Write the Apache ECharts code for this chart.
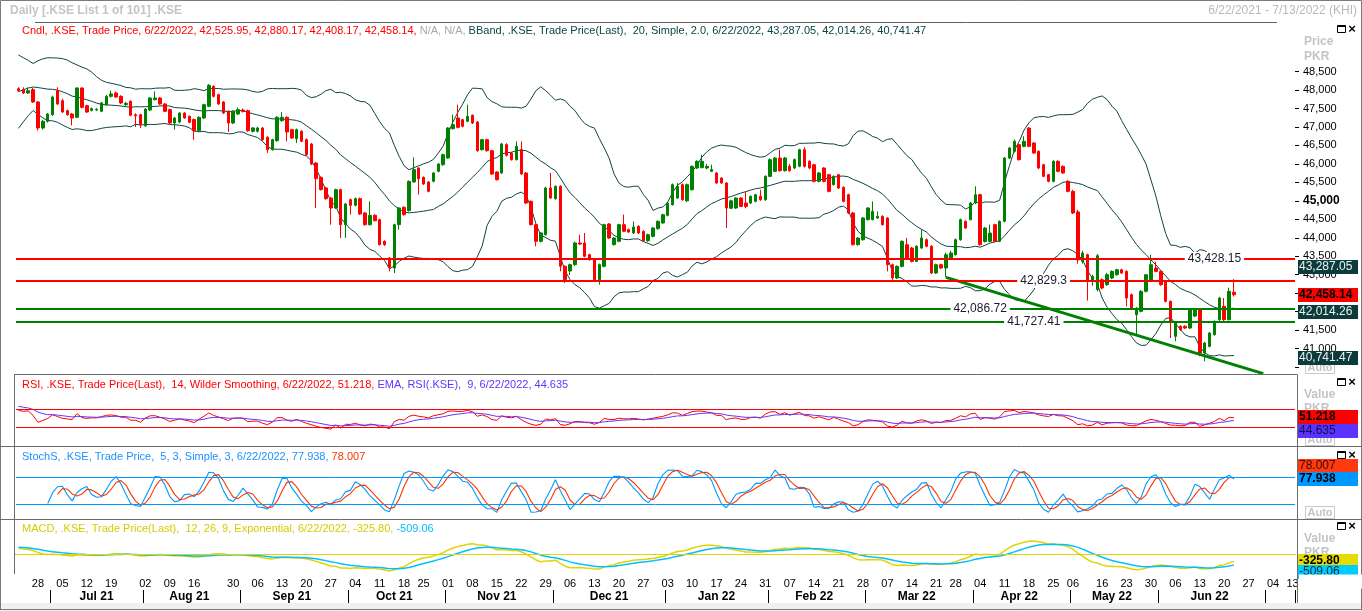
<!DOCTYPE html>
<html><head><meta charset="utf-8">
<script src="https://cdn.jsdelivr.net/npm/echarts@6/dist/echarts.min.js"></script>
<style>html,body{margin:0;padding:0;background:#fff;overflow:hidden}#c{width:1362px;height:611px}</style>
</head><body><div id="c"></div>
<script>
// ---------------- DATA ----------------
const firstDay = '2021-06-22', lastDay = '2022-07-13';
const holidays = ['2021-07-20','2021-07-21','2021-07-22','2021-08-18','2021-08-19','2021-10-19','2022-03-23','2022-04-29','2022-05-02','2022-05-03','2022-05-04','2022-05-05','2022-07-08','2022-07-11','2022-07-12'];
// closes of the 19 sessions before the window (only feed the indicators)
const warmupCloses = [46900,47050,47100,47300,47550,47800,47900,48100,48250,48400,48550,48450,48300,48200,48350,48450,48300,48150,48050];
// daily candles [open, high, low, close]
const ohlc = [
[48038,48074,47948,47984],[48011,48074,47893,47920],[47920,48074,47893,47984],[48011,48056,47650,47677],[47677,47700,46901,46973],
[46973,47190,46930,47153],[47153,47380,47120,47352],[47334,47850,47300,47812],[47984,48074,47600,47623],[47713,47760,47380,47406],
[47442,47470,47300,47334],[47352,47380,47045,47244],[47262,48074,47240,48056],[48056,48074,47500,47533],[47578,47600,47380,47406],
[47451,47530,47420,47497],[47460,47510,47430,47480],[47424,47680,47400,47650],[47605,47870,47580,47830],[47830,47984,47800,47894],
[47921,47960,47790,47812],[47830,47860,47620,47650],[47605,47680,47570,47640],[47695,47720,47290,47316],[47330,47370,47000,47300],
[47334,47360,46973,47063],[47036,47510,47000,47487],[47460,47810,47430,47785],[47740,47966,47720,47785],[47785,47810,47600,47623],
[47623,47650,47400,47424],[47470,47500,47080,47108],[47108,47270,46928,47244],[47135,47400,47100,47379],[47379,47400,47220,47244],
[47290,47310,47100,47126],[47200,47230,46657,46900],[46900,47290,46880,47262],[47244,47630,47220,47605],[47560,48164,47540,48128],
[48101,48130,47800,47830],[47876,47900,47600,47623],[47677,47700,47350,47379],[47424,47450,46865,47108],[47108,47450,47080,47424],
[47352,47530,47330,47470],[47460,47500,47390,47420],[47442,47470,46870,46900],[46883,47000,46850,46973],[46883,47010,46850,46973],
[46973,47000,46630,46657],[46720,46750,46300,46386],[46386,46680,46360,46657],[46630,47290,46600,47262],[47172,47406,47140,47262],
[47262,47290,46612,46865],[46928,46950,46680,46702],[46684,46960,46567,46928],[46883,46910,46590,46612],[46657,46690,46220,46251],
[46540,46570,45970,45998],[46025,46050,44807,45600],[45637,45660,45280,45303],[45348,45380,45030,45059],[45077,45100,44355,44807],
[44807,45330,44780,45303],[45303,45330,43994,44355],[44355,44940,43994,44915],[45032,45060,44626,44879],[44879,45090,44850,45059],
[45059,45090,44620,44644],[44671,44700,44330,44355],[44355,44987,44330,44608],[44608,44640,44440,44463],[44490,44520,43790,43814],
[43904,43930,43780,43814],[43452,43480,43091,43200],[43182,44380,43046,44355],[44355,44830,44220,44807],[44825,44850,44600,44626],
[44735,45550,44710,45529],[45511,46179,45490,45845],[45890,45910,45168,45600],[45637,45660,45430,45456],[45511,45530,45230,45258],
[45529,45780,45500,45754],[45800,46020,45770,45998],[45980,46280,45950,46251],[46161,47000,46140,46973],[46955,47334,46930,47063],
[47244,47605,46960,46991],[47199,47220,46990,47018],[47153,47605,47130,47289],[47316,47340,47080,47108],[47135,47160,46330,46359],
[46386,46680,46360,46657],[46657,46680,46330,46359],[46359,46380,45700,45727],[45782,45800,45550,45574],[45754,46570,45730,46540],
[46522,46560,46200,46233],[46296,46320,46090,46116],[46116,46612,46090,46476],[46386,46612,45700,45727],[45754,45780,44910,44942],
[44987,45010,44330,44355],[44355,44380,43769,43904],[43904,44150,43870,44130],[44084,45380,44060,45348],[45348,45754,45050,45077],
[45059,45420,45030,45393],[45393,45420,43091,43227],[43227,43250,42776,42866],[43100,43300,42990,43272],[43272,43900,43240,43859],
[43859,44084,43800,43830],[43859,44130,43470,43498],[43543,43570,43380,43407],[43407,43430,42840,42866],[42866,43300,42730,43272],
[43227,44380,43200,44355],[44373,44400,43970,43994],[43814,44020,43790,43994],[43904,44380,43880,44355],[44355,44626,44150,44175],
[44220,44250,44130,44155],[44130,44440,44100,44290],[44310,44340,44100,44130],[44174,44200,43900,43920],[43920,44110,43890,44083],
[44038,44290,44010,44264],[44246,44470,44220,44445],[44400,44650,44380,44625],[44607,44970,44580,44941],[44896,45470,44870,45438],
[45077,45480,45050,45393],[45438,45470,45000,45032],[45000,45470,44970,45438],[45302,45960,45280,45934],[45889,46100,45860,46070],
[45900,46250,45880,46070],[45889,46000,45850,45934],[45800,45980,45780,45850],[45754,45780,45460,45483],[45618,45640,45460,45483],
[45483,45510,44264,44806],[44800,45030,44780,45000],[44806,45100,44780,45077],[45077,45100,44830,44850],[44940,45250,44800,44850],
[44941,45150,44910,45121],[44986,45190,44960,45167],[45121,45300,45000,45032],[45032,45690,45000,45663],[45663,46150,45640,46115],
[45799,46190,45780,46160],[46160,46390,45790,45817],[45817,46190,45790,46160],[45934,46000,45790,45817],[45889,46150,45860,46115],
[45934,46410,45910,46385],[46385,46450,45900,45934],[46070,46100,45860,45889],[45979,46000,45500,45528],[45528,45780,45500,45754],
[45889,45910,45500,45528],[45709,45730,45230,45257],[45438,45690,45410,45663],[45709,45730,45320,45347],[45366,45390,44960,44986],
[45167,45190,44640,44670],[44670,44700,43790,43813],[43813,44020,43790,43993],[43948,44560,43920,44535],[44490,44830,44470,44806],
[44490,44986,44470,44715],[44535,44715,44510,44580],[44580,44610,44330,44354],[44535,44560,43090,43271],[43271,43300,42820,42910],
[42910,43250,42880,43226],[43226,43930,43200,43903],[43813,43993,43430,43452],[43722,43750,43330,43361],[43361,43800,43340,43768],
[43722,44219,43700,43993],[43948,43980,43740,43768],[43768,43800,43020,43045],[43045,43300,43020,43271],[43271,43300,43150,43181],
[43181,43600,42930,43542],[43452,43650,43400,43587],[43542,43980,43520,43948],[43948,44520,43920,44490],[44445,44470,44240,44264],
[44490,44970,44470,44941],[44941,45393,44910,45167],[45167,45190,43790,43813],[43900,44290,43870,44264],[43903,44354,43880,44128],
[44354,44380,43880,43903],[43903,44470,43880,44445],[44445,46190,44420,46160],[46160,46460,46130,46430],[46340,46660,46310,46611],
[46521,46550,46090,46115],[46476,46750,46450,46611],[46972,47000,46450,46476],[46566,46590,46270,46295],[46340,46370,45860,45889],
[45979,46000,45640,45663],[45709,45730,45500,45528],[45528,46100,45500,46070],[46070,46100,45770,45799],[45934,45960,45730,45754],
[45528,45560,45230,45257],[45257,45300,44640,44670],[44700,44750,43300,43400],[43361,43650,43300,43587],[43542,43570,42300,42820],
[42820,43000,42700,42950],[42600,43560,42550,43515],[42865,42900,42600,42640],[42730,43050,42700,43000],[42910,43120,42880,43090],
[43000,43160,42970,43135],[43135,43160,43020,43045],[43090,43120,42143,42370],[42460,42490,42070,42098],[41918,42120,41376,42098],
[42007,42580,41980,42549],[42549,43020,42520,42999],[42820,43542,42800,43271],[43181,43350,43060,43090],[43090,43120,42700,42730],
[42820,42850,42250,42278],[42278,42300,41285,41737],[41331,41740,41195,41692],[41602,41630,41480,41512],[41602,41630,41530,41557],
[41557,42080,41530,42052],[41880,42100,41850,42060],[42052,42080,40790,40880],[40880,41180,40654,41150],[41060,41450,41030,41421],
[41376,41760,41350,41737],[41782,42400,41750,42368],[42143,42368,41750,41782],[41782,42650,41760,42549],[42525.95,42880.17,42408.17,42458.14]
];
const levelValues = [43428.15, 42829.3, 42086.72, 41727.41];
const levelLabelDates = ['2022-06-16','2022-04-21','2022-04-04','2022-04-19'];
const trendPoints = [['2022-03-24', 42928], ['2022-06-30', 40322]];
const bbLatest = [43287.05, 42014.26, 40741.47];
const rsiLatest = [51.218, 44.635];
const stochLatest = [77.938, 78.007];
const macdLatest = [-325.80, -509.06];
const priceTickValues = [40500,41000,41500,42000,42500,43000,43500,44000,44500,45000,45500,46000,46500,47000,47500,48000,48500];
const priceLabelValues = [41000,41500,42000,42500,43000,43500,44000,44500,45000,45500,46000,46500,47000,47500,48000,48500];
const dayLabelDates = ['2021-06-28','2021-07-05','2021-07-12','2021-07-19','2021-08-02','2021-08-09','2021-08-16','2021-08-30','2021-09-06','2021-09-13','2021-09-20','2021-09-27','2021-10-04','2021-10-11','2021-10-18','2021-10-25','2021-11-01','2021-11-08','2021-11-15','2021-11-22','2021-11-29','2021-12-06','2021-12-13','2021-12-20','2021-12-27','2022-01-03','2022-01-10','2022-01-17','2022-01-24','2022-01-31','2022-02-07','2022-02-14','2022-02-21','2022-02-28','2022-03-07','2022-03-14','2022-03-21','2022-03-28','2022-04-04','2022-04-11','2022-04-18','2022-04-25','2022-05-06','2022-05-16','2022-05-23','2022-05-30','2022-06-06','2022-06-13','2022-06-20','2022-06-27','2022-07-04','2022-07-13'];
const extraTickDates = ['2021-07-26','2021-08-23','2022-05-09'];
const monthLabels = ['Jul 21','Aug 21','Sep 21','Oct 21','Nov 21','Dec 21','Jan 22','Feb 22','Mar 22','Apr 22','May 22','Jun 22'];
const monthKeys = ['2021-07','2021-08','2021-09','2021-10','2021-11','2021-12','2022-01','2022-02','2022-03','2022-04','2022-05','2022-06','2022-07'];

// ---------------- CALENDAR ----------------
const dates = (() => {
  const out = [], hs = new Set(holidays);
  let d = new Date(firstDay + 'T00:00:00Z'); const end = new Date(lastDay + 'T00:00:00Z');
  while (d <= end) { const w = d.getUTCDay(), s = d.toISOString().slice(0, 10);
    if (w !== 0 && w !== 6 && !hs.has(s)) out.push(s); d = new Date(d.getTime() + 86400000); }
  return out;
})();
const idxOf = s => dates.indexOf(s);
const dayLabelSet = new Set(dayLabelDates.map(idxOf));
const monthStartSet = new Set(monthKeys.map(k => dates.findIndex(s => s.startsWith(k))).filter(i => i >= 0));
const tickSet = new Set([...dayLabelSet, ...extraTickDates.map(idxOf), ...monthStartSet]);
const monthMid = {};
monthLabels.forEach((lab, m) => { const ids = dates.map((s, i) => s.startsWith(monthKeys[m]) ? i : -1).filter(i => i >= 0);
  monthMid[ids[Math.floor((ids.length - 1) / 2)]] = lab; });

// ---------------- INDICATORS ----------------
const N = ohlc.length;
const closes = ohlc.map(r => r[3]);
const allC = warmupCloses.concat(closes); const W = warmupCloses.length;
const bbU = [], bbM = [], bbL = [];
for (let i = 0; i < N; i++) { const j = i + W; const win = allC.slice(j - 19, j + 1);
  const m = win.reduce((a, b) => a + b, 0) / 20; const sd = Math.sqrt(win.reduce((a, b) => a + (b - m) * (b - m), 0) / 20);
  bbU.push(+(m + 2 * sd).toFixed(2)); bbM.push(+m.toFixed(2)); bbL.push(+(m - 2 * sd).toFixed(2)); }
const rsiAll = []; { let g = 0, l = 0;
  for (let k = 1; k <= 14; k++) { const ch = allC[k] - allC[k - 1]; if (ch > 0) g += ch; else l -= ch; }
  g /= 14; l /= 14; rsiAll[14] = 100 - 100 / (1 + g / l);
  for (let k = 15; k < allC.length; k++) { const ch = allC[k] - allC[k - 1];
    g = (g * 13 + Math.max(ch, 0)) / 14; l = (l * 13 + Math.max(-ch, 0)) / 14; rsiAll[k] = 100 - 100 / (1 + g / l); } }
const rsiEmaAll = []; rsiEmaAll[14] = rsiAll[14];
for (let k = 15; k < allC.length; k++) rsiEmaAll[k] = rsiEmaAll[k - 1] + 0.2 * (rsiAll[k] - rsiEmaAll[k - 1]);
const rsi = rsiAll.slice(W).map(v => +v.toFixed(3)), rsiEma = rsiEmaAll.slice(W).map(v => +v.toFixed(3));
const fastK = [], slowK = [], stD = [];
for (let i = 0; i < N; i++) {
  if (i >= 4) { let hh = -Infinity, ll = Infinity; for (let k = i - 4; k <= i; k++) { hh = Math.max(hh, ohlc[k][1]); ll = Math.min(ll, ohlc[k][2]); }
    fastK[i] = 100 * (ohlc[i][3] - ll) / (hh - ll); } else fastK[i] = null;
  slowK[i] = i >= 6 ? (fastK[i] + fastK[i - 1] + fastK[i - 2]) / 3 : null;
  stD[i] = i >= 8 ? (slowK[i] + slowK[i - 1] + slowK[i - 2]) / 3 : null; }
const e12 = [allC[0]], e26 = [allC[0]];
for (let k = 1; k < allC.length; k++) { e12[k] = e12[k - 1] + 2 / 13 * (allC[k] - e12[k - 1]); e26[k] = e26[k - 1] + 2 / 27 * (allC[k] - e26[k - 1]); }
const macdAll = e12.map((v, k) => v - e26[k]); const sigAll = [macdAll[0]];
for (let k = 1; k < allC.length; k++) sigAll[k] = sigAll[k - 1] + 0.2 * (macdAll[k] - sigAll[k - 1]);
const macd = macdAll.slice(W).map(v => +v.toFixed(2)), signal = sigAll.slice(W).map(v => +v.toFixed(2));

// ---------------- CHART ----------------
const F = 'Liberation Sans';
const fmt = (v, d) => v.toLocaleString('en-US', { minimumFractionDigits: d, maximumFractionDigits: d });
const last = ohlc[N - 1];
const grids = [
  { left: 16, right: 67, top: 22, height: 352 },
  { left: 16, right: 67, top: 395.5, height: 45 },
  { left: 16, right: 67, top: 468.8, height: 44.4 },
  { left: 16, right: 67, top: 520, height: 54 }];
const hidX = g => ({ type: 'category', gridIndex: g, data: dates, boundaryGap: true, show: false });
const ml = (items) => ({ symbol: ['none', 'none'], silent: true, animation: false, label: { show: false }, data: items });
const ttl = (text, pos, top, rich, ts) => Object.assign({ text, top, padding: 0,
  textStyle: Object.assign({ fontFamily: F, fontSize: 11, fontWeight: 'normal', rich }, ts || {}) }, pos);
const gray = { color: '#c4c4c4', fontSize: 12, fontWeight: 'bold' };

const option = {
  animation: false,
  backgroundColor: '#fff',
  grid: grids,
  title: [
    ttl('Daily [.KSE List 1 of 101] .KSE', { left: 10 }, 5, {}, gray),
    ttl('6/22/2021 - 7/13/2022 (KHI)', { right: 5 }, 5, {}, { color: '#b8b8b8', fontSize: 12, fontWeight: 'normal' }),
    ttl('{r|Cndl, .KSE, Trade Price, 6/22/2022, ' + last.map(v => fmt(v, 2)).join(', ') + ', }{g|N/A, N/A, }{t|BBand, .KSE, Trade Price(Last),  20, Simple, 2.0, 6/22/2022, ' + bbLatest.map(v => fmt(v, 2)).join(', ') + '}', { left: 22 }, 25,
      { r: { color: '#ff0000', fontFamily: F, fontSize: 11 }, g: { color: '#a8a8a8', fontFamily: F, fontSize: 11 }, t: { color: '#0d4545', fontFamily: F, fontSize: 11 } }),
    ttl('{r|RSI, .KSE, Trade Price(Last),  14, Wilder Smoothing, 6/22/2022, ' + fmt(rsiLatest[0], 3) + ', }{p|EMA, RSI(.KSE),  9, 6/22/2022, ' + fmt(rsiLatest[1], 3) + '}', { left: 22 }, 379,
      { r: { color: '#ff0000', fontFamily: F, fontSize: 11 }, p: { color: '#6633ff', fontFamily: F, fontSize: 11 } }),
    ttl('{b|StochS, .KSE, Trade Price,  5, 3, Simple, 3, 6/22/2022, ' + fmt(stochLatest[0], 3) + ', }{r|' + fmt(stochLatest[1], 3) + '}', { left: 22 }, 451,
      { b: { color: '#1e90ff', fontFamily: F, fontSize: 11 }, r: { color: '#ff3300', fontFamily: F, fontSize: 11 } }),
    ttl('{y|MACD, .KSE, Trade Price(Last),  12, 26, 9, Exponential, 6/22/2022, ' + fmt(macdLatest[0], 2) + ', }{c|' + fmt(macdLatest[1], 2) + '}', { left: 22 }, 523,
      { y: { color: '#d6cc00', fontFamily: F, fontSize: 11 }, c: { color: '#00bfff', fontFamily: F, fontSize: 11 } }),
    ttl('Price', { left: 1304 }, 36, {}, gray), ttl('PKR', { left: 1304 }, 51, {}, gray),
    ttl('Value', { left: 1304 }, 389, {}, gray), ttl('PKR', { left: 1304 }, 403, {}, gray),
    ttl('Value', { left: 1304 }, 462, {}, gray), ttl('PKR', { left: 1304 }, 476, {}, gray),
    ttl('Value', { left: 1304 }, 533, {}, gray), ttl('PKR', { left: 1304 }, 547, {}, gray)
  ],
  xAxis: [hidX(0), hidX(1), hidX(2),
    { type: 'category', gridIndex: 3, data: dates, boundaryGap: true,
      axisLine: { lineStyle: { color: '#505050', width: 1 } },
      axisTick: { alignWithLabel: true, interval: i => tickSet.has(i), length: 3, lineStyle: { color: '#000' } },
      axisLabel: { interval: i => dayLabelSet.has(i), formatter: v => v.slice(8), fontFamily: F, fontSize: 11, color: '#000', margin: 4 } },
    { type: 'category', gridIndex: 3, data: dates, boundaryGap: true, position: 'bottom', offset: 16,
      axisLine: { show: false },
      axisTick: { show: true, interval: i => monthStartSet.has(i), length: 14, lineStyle: { color: '#000' } },
      axisLabel: { interval: i => monthMid[i] !== undefined, formatter: (v, i) => monthMid[i] || '', fontFamily: F, fontSize: 12, fontWeight: 'bold', color: '#000', margin: 1 } }
  ],
  yAxis: [
    { type: 'value', gridIndex: 0, position: 'right', min: 40311, max: 49843, scale: true, splitLine: { show: false },
      axisLine: { show: false },
      axisTick: { show: true, customValues: priceTickValues, length: 4, lineStyle: { color: '#000' } },
      axisLabel: { customValues: priceLabelValues, margin: 8, fontFamily: F, fontSize: 11, color: '#000',
        formatter: v => v === 45000 ? '{b|45,000}' : v.toLocaleString('en-US'),
        rich: { b: { fontWeight: 'bold', fontFamily: F, fontSize: 12, color: '#000' } } } },
    { type: 'value', gridIndex: 1, min: 0, max: 100, show: false, splitLine: { show: false } },
    { type: 'value', gridIndex: 2, min: 0, max: 100, show: false, splitLine: { show: false } },
    { type: 'value', gridIndex: 3, show: false, splitLine: { show: false },
      min: v => v.min - (v.max - v.min) * 0.1, max: v => v.max + (v.max - v.min) * 0.7 }
  ],
  series: [
    { type: 'line', name: 'levels', xAxisIndex: 0, yAxisIndex: 0, data: [], z: 1,
      markLine: ml(levelValues.map((v, k) => ({ yAxis: v, lineStyle: { color: k < 2 ? '#ff0000' : '#008000', width: 2, type: 'solid' } }))) },
    { type: 'candlestick', name: 'KSE', xAxisIndex: 0, yAxisIndex: 0, z: 3, barWidth: 3,
      data: ohlc.map(r => [r[0], r[3], r[2], r[1]]),
      itemStyle: { color: '#008000', color0: '#ff0000', borderColor: '#008000', borderColor0: '#ff0000', borderWidth: 1 } },
    ...[bbU, bbM, bbL].map(d => ({ type: 'line', xAxisIndex: 0, yAxisIndex: 0, data: d, symbol: 'none', z: 2,
      lineStyle: { color: '#0e4444', width: 1 } })),
    { type: 'line', name: 'trend', xAxisIndex: 0, yAxisIndex: 0, data: trendPoints, symbol: 'none', z: 4,
      lineStyle: { color: '#008000', width: 3 } },
    { type: 'line', name: 'RSI', xAxisIndex: 1, yAxisIndex: 1, data: rsi, symbol: 'none', z: 3, lineStyle: { color: '#ff0000', width: 1 },
      markLine: ml([{ yAxis: 70 }, { yAxis: 30 }].map(o => Object.assign(o, { lineStyle: { color: '#ff0000', width: 1, type: 'solid' } }))) },
    { type: 'line', name: 'RSI EMA', xAxisIndex: 1, yAxisIndex: 1, data: rsiEma, symbol: 'none', z: 3, lineStyle: { color: '#6633ff', width: 1 } },
    { type: 'line', name: '%K', xAxisIndex: 2, yAxisIndex: 2, data: slowK, symbol: 'none', z: 3, lineStyle: { color: '#0099ff', width: 1.1 },
      markLine: ml([{ yAxis: 80 }, { yAxis: 20 }].map(o => Object.assign(o, { lineStyle: { color: '#0099ff', width: 1, type: 'solid' } }))) },
    { type: 'line', name: '%D', xAxisIndex: 2, yAxisIndex: 2, data: stD, symbol: 'none', z: 3, lineStyle: { color: '#ff3300', width: 1.1 } },
    { type: 'line', name: 'MACD', xAxisIndex: 3, yAxisIndex: 3, data: macd, symbol: 'none', z: 3, lineStyle: { color: '#e0d400', width: 1.5 },
      markLine: ml([{ yAxis: 0, lineStyle: { color: '#e0d400', width: 1, type: 'solid' } }]) },
    { type: 'line', name: 'Signal', xAxisIndex: 3, yAxisIndex: 3, data: signal, symbol: 'none', z: 3, lineStyle: { color: '#00c0ff', width: 1.5 } }
  ]
};
const chart = echarts.init(document.getElementById('c'));
chart.setOption(option);

// ---------------- DECORATION (frames, badges, level labels) ----------------
const ln = (x1, y1, x2, y2, c) => ({ type: 'line', z: 40, silent: true, shape: { x1, y1, x2, y2 }, style: { stroke: c || '#6a6a6a', lineWidth: 1 } });
const gfx = [
  { type: 'rect', z: 39, silent: true, shape: { x: 0, y: 603, width: 1362, height: 8 }, style: { fill: '#f0f0f0' } },
  ln(0, 609.5, 1362, 609.5, '#303030'),
  { type: 'rect', z: 40, silent: true, shape: { x: 0.5, y: 0.5, width: 1361, height: 609 }, style: { fill: 'none', stroke: '#7a7a7a', lineWidth: 1 } },
  ln(35, 22.5, 1277, 22.5, '#606060'),
  ln(14, 374.5, 1297, 374.5), ln(14.5, 374.5, 14.5, 574), ln(0, 446.5, 1362, 446.5), ln(0, 519.5, 1362, 519.5),
  ln(1297.5, 374.5, 1297.5, 603)
];
[29, 382, 455, 526].forEach(y => {
  gfx.push({ type: 'rect', z: 41, silent: true, shape: { x: 1337.5, y: y - 3.5, width: 8, height: 7 }, style: { fill: 'none', stroke: '#000', lineWidth: 1 } });
  gfx.push(ln(1337.5, y - 2.5, 1345.5, y - 2.5, '#000'));
  gfx.push({ type: 'text', z: 41, silent: true, style: { text: '×', x: 1352, y: y, font: 'bold 13px "Liberation Sans"', fill: '#000', align: 'center', verticalAlign: 'middle' } });
});
[368, 440, 513].forEach(y => {
  gfx.push({ type: 'rect', z: 41, silent: true, shape: { x: 1305.5, y: y - 6.5, width: 29, height: 12 }, style: { fill: '#fff', stroke: '#c8c8c8', lineWidth: 1 } });
  gfx.push({ type: 'text', z: 42, silent: true, style: { text: 'Auto', x: 1320, y: y, font: 'bold 11px "Liberation Sans"', fill: '#c4c4c4', align: 'center', verticalAlign: 'middle' } });
});
const badges = [
  { axis: 0, value: bbLatest[0], text: fmt(bbLatest[0], 2), bg: '#0d3b3b', fg: '#e8f4f4', bold: false, shift: 3 },
  { axis: 0, value: last[3], text: fmt(last[3], 2), bg: '#ff0000', fg: '#000', bold: true, shift: 0 },
  { axis: 0, value: bbLatest[1], text: fmt(bbLatest[1], 2), bg: '#0d3b3b', fg: '#e8f4f4', bold: false, shift: 1 },
  { axis: 0, value: bbLatest[2], text: fmt(bbLatest[2], 2), bg: '#0d3b3b', fg: '#e8f4f4', bold: false, shift: 0 },
  { axis: 1, value: rsiLatest[0], text: fmt(rsiLatest[0], 3), bg: '#ff0000', fg: '#000', bold: true, shift: 0 },
  { axis: 1, value: rsiLatest[1], text: fmt(rsiLatest[1], 3), bg: '#5b33ff', fg: '#14104a', bold: false, shift: 11 },
  { axis: 2, value: stochLatest[1], text: fmt(stochLatest[1], 3), bg: '#ff3a10', fg: '#3a0a00', bold: false, shift: -13 },
  { axis: 2, value: stochLatest[0], text: fmt(stochLatest[0], 3), bg: '#0099ff', fg: '#000', bold: true, shift: 0 },
  { axis: 3, value: macd[N - 1], text: fmt(macdLatest[0], 2), bg: '#e6dc00', fg: '#000', bold: true, shift: 0 },
  { axis: 3, value: signal[N - 1], text: fmt(macdLatest[1], 2), bg: '#00ccff', fg: '#00303f', bold: false, shift: 7 }
];
badges.forEach(b => {
  const y = Math.round(chart.convertToPixel({ yAxisIndex: b.axis }, b.value) + b.shift);
  gfx.push({ type: 'rect', z: 45, silent: true, shape: { x: 1298, y: y - 7, width: 60, height: 14 }, style: { fill: b.bg } });
  gfx.push({ type: 'text', z: 46, silent: true, style: { text: b.text, x: 1299, y: y, font: (b.bold ? 'bold 12px' : '12px') + ' "Liberation Sans"', fill: b.fg, align: 'left', verticalAlign: 'middle' } });
});
gfx.push({ type: 'rect', z: 47, silent: true, shape: { x: 1299, y: 574.5, width: 63, height: 14 }, style: { fill: '#fff' } });
levelValues.forEach((v, k) => {
  const p = chart.convertToPixel({ xAxisIndex: 0, yAxisIndex: 0 }, [idxOf(levelLabelDates[k]), v]);
  const dec = String(v).split('.')[1]; 
  gfx.push({ type: 'text', z: 30, silent: true, style: { text: fmt(v, dec ? dec.length : 0), x: p[0], y: p[1],
    font: '12px "Liberation Sans"', fill: '#1a1a2e', align: 'center', verticalAlign: 'middle', backgroundColor: '#fff', padding: [1, 3] } });
});
chart.setOption({ graphic: gfx });
</script></body></html>
